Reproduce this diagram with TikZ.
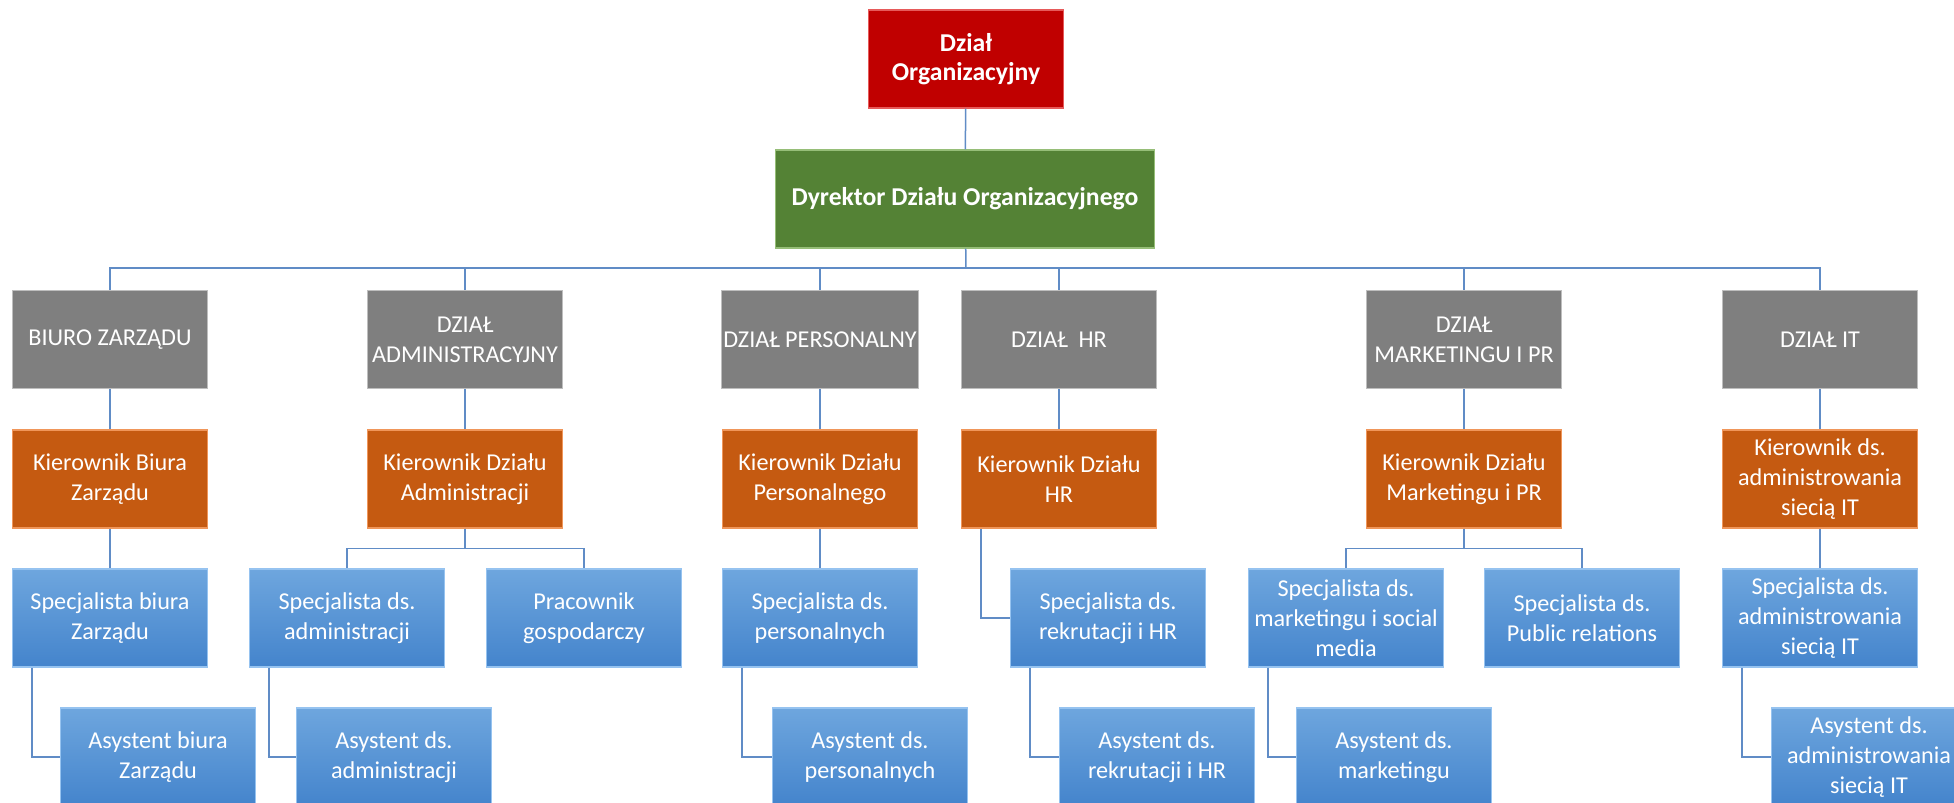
\documentclass[tikz,border=0pt]{standalone}
\usepackage{fontspec}
\setmainfont{Carlito}
\definecolor{cred}{RGB}{192,0,0}
\definecolor{credl}{RGB}{230,90,90}
\definecolor{cgreen}{RGB}{84,130,53}
\definecolor{cgreenl}{RGB}{150,190,120}
\definecolor{cgrey}{RGB}{127,127,127}
\definecolor{cgreyl}{RGB}{190,190,190}
\definecolor{corange}{RGB}{197,90,17}
\definecolor{corangel}{RGB}{240,150,90}
\definecolor{cbluet}{RGB}{110,166,222}
\definecolor{cblueb}{RGB}{68,132,204}
\definecolor{cbluel}{RGB}{150,195,240}
\definecolor{cline}{RGB}{96,140,198}
\begin{document}
\begin{tikzpicture}[x=1pt,y=-1pt,
  box/.style={minimum width=195pt, minimum height=98pt, align=center, text=white,
    font=\fontsize{24.2}{30}\selectfont, inner sep=2pt, line width=1.2pt},
  redbox/.style={box, fill=cred, draw=credl, font=\fontsize{25.7}{29}\selectfont\bfseries},
  greenbox/.style={box, minimum width=379pt, fill=cgreen, draw=cgreenl, font=\fontsize{25.7}{29}\selectfont\bfseries},
  greybox/.style={box, fill=cgrey, draw=cgreyl},
  orangebox/.style={box, fill=corange, draw=corangel},
  bluebox/.style={box, top color=cbluet, bottom color=cblueb, draw=cbluel},
  conn/.style={draw=cline, line width=1.5pt}]
\useasboundingbox (0,0) rectangle (1954,803);
\fill[white] (0,0) rectangle (1954,803);

\coordinate (bar) at (966,268);

\node[redbox] (red) at (966,59) {Dział\\Organizacyjny};
\node[greenbox] (green) at (965,199) {Dyrektor Działu Organizacyjnego};

\node[greybox] (g1) at (110,339.5) {BIURO ZARZĄDU};
\node[greybox] (g2) at (465,339.5) {DZIAŁ\\ADMINISTRACYJNY};
\node[greybox] (g3) at (820,339.5) {DZIAŁ PERSONALNY};
\node[greybox] (g4) at (1059,339.5) {DZIAŁ\ \ HR};
\node[greybox] (g5) at (1464,339.5) {DZIAŁ\\MARKETINGU I PR};
\node[greybox] (g6) at (1820,339.5) {DZIAŁ IT};

\node[orangebox] (o1) at (110,479) {Kierownik Biura\\Zarządu};
\node[orangebox] (o2) at (465,479) {Kierownik Działu\\Administracji};
\node[orangebox] (o3) at (820,479) {Kierownik Działu\\Personalnego};
\node[orangebox] (o4) at (1059,479) {Kierownik Działu\\HR};
\node[orangebox] (o5) at (1464,479) {Kierownik Działu\\Marketingu i PR};
\node[orangebox] (o6) at (1820,479) {Kierownik ds.\\administrowania\\siecią IT};

\node[bluebox] (s1) at (110,618) {Specjalista biura\\Zarządu};
\node[bluebox] (s2a) at (347,618) {Specjalista ds.\\administracji};
\node[bluebox] (s2b) at (584,618) {Pracownik\\gospodarczy};
\node[bluebox] (s3) at (820,618) {Specjalista ds.\\personalnych};
\node[bluebox] (s4) at (1108,618) {Specjalista ds.\\rekrutacji i HR};
\node[bluebox] (s5a) at (1346,618) {Specjalista ds.\\marketingu i social\\media};
\node[bluebox] (s5b) at (1582,618) {Specjalista ds.\\Public relations};
\node[bluebox] (s6) at (1820,618) {Specjalista ds.\\administrowania\\siecią IT};

\node[bluebox] (a1) at (158,757) {Asystent biura\\Zarządu};
\node[bluebox] (a2) at (394,757) {Asystent ds.\\administracji};
\node[bluebox] (a3) at (870,757) {Asystent ds.\\personalnych};
\node[bluebox] (a4) at (1157,757) {Asystent ds.\\rekrutacji i HR};
\node[bluebox] (a5) at (1394,757) {Asystent ds.\\marketingu};
\node[bluebox] (a6) at (1869,757) {Asystent ds.\\administrowania\\siecią IT};

\draw[conn] (red) -- (green);
\draw[conn] (green) -- (bar);
\foreach \g in {g1,g2,g3,g4,g5,g6} \draw[conn] (\g.north) |- (bar);
\foreach \i in {1,...,6} \draw[conn] (g\i.south) -- (o\i.north);
\draw[conn] (o1.south) -- (s1.north);
\draw[conn] (o2.south) -- ++(0,20) -| (s2a.north);
\draw[conn] (o2.south) -- ++(0,20) -| (s2b.north);
\draw[conn] (o3.south) -- (s3.north);
\draw[conn] ([xshift=20pt]o4.south west) |- (s4.west);
\draw[conn] (o5.south) -- ++(0,20) -| (s5a.north);
\draw[conn] (o5.south) -- ++(0,20) -| (s5b.north);
\draw[conn] (o6.south) -- (s6.north);
\draw[conn] ([xshift=20pt]s1.south west) |- (a1.west);
\draw[conn] ([xshift=20pt]s2a.south west) |- (a2.west);
\draw[conn] ([xshift=20pt]s3.south west) |- (a3.west);
\draw[conn] ([xshift=20pt]s4.south west) |- (a4.west);
\draw[conn] ([xshift=20pt]s5a.south west) |- (a5.west);
\draw[conn] ([xshift=20pt]s6.south west) |- (a6.west);
\end{tikzpicture}
\end{document}
